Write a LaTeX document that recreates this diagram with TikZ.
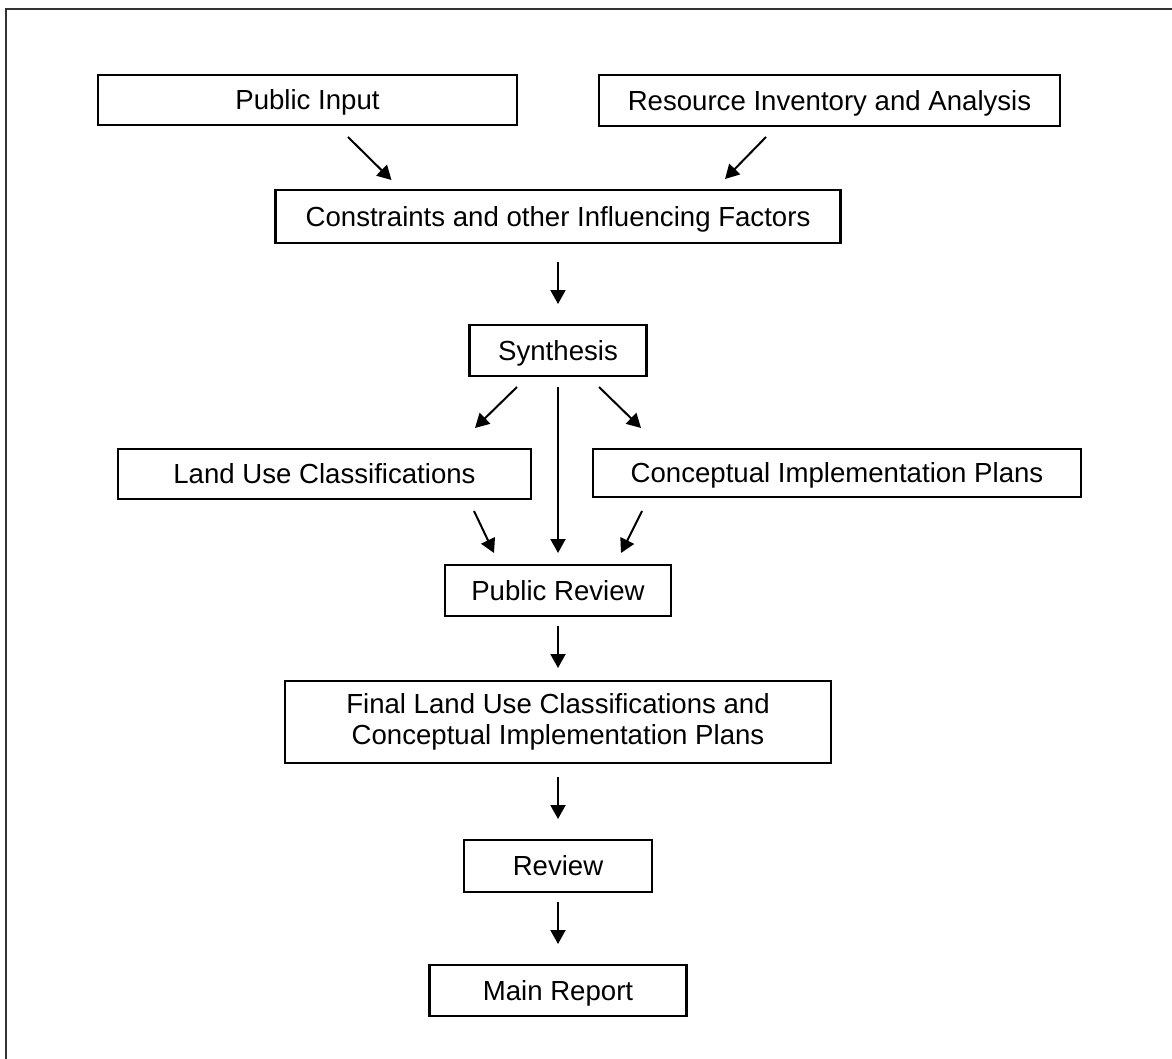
\documentclass[tikz,border=0pt]{standalone}
\usepackage{fontspec}
\setmainfont{Liberation Sans}
\usetikzlibrary{arrows.meta}

\begin{document}
\begin{tikzpicture}[x=1pt, y=1pt, >={Triangle[length=14pt,width=15pt]},
    stage/.style={draw, line width=2.6pt, inner sep=0pt, outer sep=0pt, minimum height=50pt, font=\fontsize{27.6}{31}\selectfont},
    oneline/.style={text height=19.8pt, text depth=0pt},
    flow/.style={->, line width=2pt}]
    \useasboundingbox (0,0) rectangle (1172,-1059);
    \draw[line width=2.5pt, black!80] (6,-1059) -- (6,-9) -- (1172,-9);
    \node[stage, oneline, minimum width=419] (pub) at (307.5,-100) {Public Input};
    \node[stage, oneline, minimum width=461, minimum height=51] (res) at (829.5,-100.5) {Resource Inventory and Analysis};
    \node[stage, oneline, minimum width=565, minimum height=53] (cons) at (558,-216.5) {Constraints and other Influencing Factors};
    \node[stage, oneline, minimum width=177, minimum height=51] (syn) at (558,-350.5) {Synthesis};
    \node[stage, oneline, minimum width=413] (luc) at (324.5,-474) {Land Use Classifications};
    \node[stage, oneline, minimum width=488, minimum height=48] (cip) at (837,-473) {Conceptual Implementation Plans};
    \node[stage, oneline, minimum width=226, minimum height=51] (prev) at (558,-590.5) {Public Review};
    \node[stage, minimum width=546, minimum height=82, align=center] (final) at (558,-722) {Final Land Use Classifications and\\Conceptual Implementation Plans};
    \node[stage, oneline, minimum width=188, minimum height=52] (rev) at (558,-866) {Review};
    \node[stage, oneline, minimum width=257, minimum height=51] (rep) at (558,-990.5) {Main Report};
    \draw[flow] ([shift={(40.5,-12)}]pub.south) -- ([shift={(-166.5,10)}]cons.north);
    \draw[flow] ([shift={(-63.5,-11)}]res.south) -- ([shift={(167,11)}]cons.north);
    \draw[flow] ([yshift=-19]cons.south) -- ([yshift=21]syn.north);
    \draw[flow] ([shift={(-41,-11)}]syn.south) -- ([shift={(150.5,21)}]luc.north);
    \draw[flow] ([yshift=-11]syn.south) -- ([yshift=12]prev.north);
    \draw[flow] ([shift={(41,-11)}]syn.south) -- ([shift={(-196,21)}]cip.north);
    \draw[flow] ([shift={(149.5,-12)}]luc.south) -- ([shift={(-64,12)}]prev.north);
    \draw[flow] ([shift={(-195,-14)}]cip.south) -- ([shift={(63,12)}]prev.north);
    \draw[flow] ([yshift=-10]prev.south) -- ([yshift=13]final.north);
    \draw[flow] ([yshift=-14]final.south) -- ([yshift=21]rev.north);
    \draw[flow] ([yshift=-10]rev.south) -- ([yshift=21]rep.north);
\end{tikzpicture}
\end{document}
